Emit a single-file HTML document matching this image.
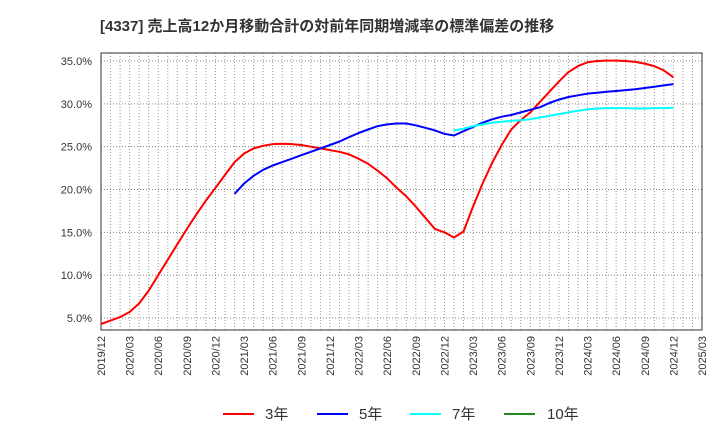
<!DOCTYPE html>
<html><head><meta charset="utf-8"><style>
body{margin:0;background:#fff;font-family:"Liberation Sans","Noto Sans CJK JP",sans-serif;}
</style></head><body>
<svg width="720" height="440" xmlns="http://www.w3.org/2000/svg" id="svg">
<text x="100" y="31" font-size="15" font-weight="bold" fill="#333" font-family="Liberation Sans, Noto Sans CJK JP, sans-serif">[4337]  売上高12か月移動合計の対前年同期増減率の標準偏差の推移</text>
<g id="grid"></g><g id="axes"></g><g id="series"></g><g id="legend"></g>
</svg>
<script>
const xTickLabels=["2019/12","2020/03","2020/06","2020/09","2020/12","2021/03","2021/06","2021/09","2021/12","2022/03","2022/06","2022/09","2022/12","2023/03","2023/06","2023/09","2023/12","2024/03","2024/06","2024/09","2024/12","2025/03"];
const yTicks=[5,10,15,20,25,30,35];
const s3=[4.3,4.7,5.1,5.7,6.7,8.2,10.0,11.8,13.6,15.4,17.1,18.7,20.2,21.7,23.2,24.2,24.8,25.1,25.3,25.35,25.3,25.2,25.0,24.8,24.6,24.4,24.1,23.6,23.0,22.2,21.3,20.2,19.2,18.0,16.7,15.4,15.0,14.4,15.1,18.0,20.7,23.1,25.2,27.0,28.1,29.0,30.2,31.4,32.6,33.7,34.4,34.85,35.0,35.05,35.05,35.0,34.9,34.7,34.4,33.9,33.1];
const s5start=14;
const s5=[19.5,20.7,21.6,22.3,22.8,23.2,23.6,24.0,24.4,24.8,25.2,25.6,26.1,26.6,27.0,27.4,27.6,27.7,27.7,27.5,27.2,26.9,26.5,26.3,26.8,27.3,27.8,28.2,28.5,28.7,29.0,29.3,29.6,30.1,30.5,30.8,31.0,31.2,31.3,31.4,31.5,31.6,31.7,31.85,32.0,32.15,32.3];
const s7start=37;
const s7=[26.9,27.1,27.4,27.6,27.8,27.9,28.0,28.1,28.2,28.4,28.6,28.8,29.0,29.2,29.35,29.45,29.5,29.5,29.5,29.45,29.45,29.5,29.5,29.55];
const NS="http://www.w3.org/2000/svg";
const L=101,R=702,T=53,B=330,months=63;
const X=i=>L+(R-L)*i/months;
const Y=v=>318-(v-5)*(318-61)/30;
function mk(t,a,p){const e=document.createElementNS(NS,t);for(const k in a)e.setAttribute(k,a[k]);p.appendChild(e);return e;}
const grid=document.getElementById('grid'),axes=document.getElementById('axes'),ser=document.getElementById('series'),leg=document.getElementById('legend');
for(let m=1;m<months;m++){const l=mk('line',{x1:X(m),x2:X(m),y1:T,y2:B,stroke:'#999','stroke-dasharray':'1,2','stroke-width':1},grid);}
yTicks.forEach(v=>{const l=mk('line',{x1:L,x2:R,y1:Y(v),y2:Y(v),stroke:'#888','stroke-dasharray':'1,2','stroke-width':1},grid);
const t=mk('text',{x:92,y:Y(v)+4,'text-anchor':'end','font-size':11,fill:'#333'},axes);t.textContent=v.toFixed(1)+'%';});
const box=mk('rect',{x:L,y:T,width:R-L,height:B-T,fill:'none',stroke:'#333','stroke-width':1},axes);
xTickLabels.forEach((s,i)=>{const x=X(i*3);const t=mk('text',{x:0,y:0,'text-anchor':'end','font-size':11,fill:'#333',transform:`translate(${x+4},336) rotate(-90)`},axes);t.textContent=s;});
function line(arr,start,color,name){const p=arr.map((v,i)=>X(start+i).toFixed(1)+','+Y(v).toFixed(1)).join(' ');const e=mk('polyline',{points:p,fill:'none',stroke:color,'stroke-width':2,'stroke-linejoin':'round'},ser);}
line(s3,0,'#f00','series-3y');line(s5,s5start,'#00f','series-5y');line(s7,s7start,'#0ff','series-7y');
[['3年','#f00',223,265],['5年','#00f',317,359],['7年','#0ff',410,452],['10年','#228b22',504,547]].forEach(([n,c,x,tx])=>{const g=mk('g',{},leg);
mk('line',{x1:x,x2:x+31,y1:414,y2:414,stroke:c,'stroke-width':2},g);const t=mk('text',{x:tx,y:419,'font-size':15,fill:'#333'},g);t.textContent=n;});
</script>
</body></html>
